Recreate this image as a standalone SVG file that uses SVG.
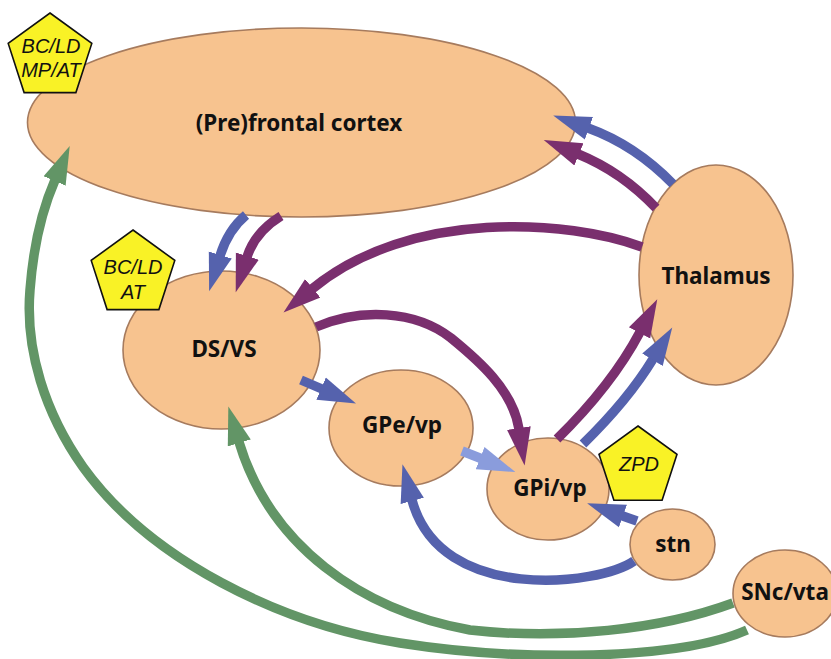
<svg xmlns="http://www.w3.org/2000/svg" width="831" height="659" viewBox="0 0 831 659">
<style>
.node{fill:#F7C38F;stroke:#A67B5E;stroke-width:1.6}
.badge{fill:#F9F226;stroke:#111;stroke-width:1.6;stroke-linejoin:miter}
.lbl{font-family:"Noto Sans","Open Sans","DejaVu Sans",sans-serif;font-weight:bold;font-size:22.5px;fill:#111;text-anchor:middle}
.blbl{font-family:"Liberation Sans",Arial,sans-serif;font-style:italic;font-size:20px;fill:#111;text-anchor:middle}
.c{fill:none;stroke-width:9.5;stroke-linecap:butt}
.purple{stroke:#7A2F6E}
.blue{stroke:#5562AD}
.lblue{stroke:#8A9CDC}
.green{stroke:#629566}
</style>
<defs>
<marker id="ah-purple" viewBox="0 -13 40 26" refX="1" refY="0" markerWidth="40" markerHeight="26" markerUnits="userSpaceOnUse" orient="auto"><path d="M0,-12 L38,0 L0,12 Z" fill="#7A2F6E"/></marker>
<marker id="ah-blue" viewBox="0 -13 40 26" refX="1" refY="0" markerWidth="40" markerHeight="26" markerUnits="userSpaceOnUse" orient="auto"><path d="M0,-12 L38,0 L0,12 Z" fill="#5562AD"/></marker>
<marker id="ah-lblue" viewBox="0 -13 40 26" refX="1" refY="0" markerWidth="40" markerHeight="26" markerUnits="userSpaceOnUse" orient="auto"><path d="M0,-12 L38,0 L0,12 Z" fill="#8A9CDC"/></marker>
<marker id="ah-green" viewBox="0 -13 40 26" refX="1" refY="0" markerWidth="40" markerHeight="26" markerUnits="userSpaceOnUse" orient="auto"><path d="M0,-12 L38,0 L0,12 Z" fill="#629566"/></marker>
</defs>
<rect width="831" height="659" fill="#fff"/>

<g id="pfc">
<ellipse class="node" cx="301.5" cy="122.5" rx="274" ry="94.5"/>
<text class="lbl" x="299" y="131">(Pre)frontal cortex</text>
</g>
<g id="thalamus">
<ellipse class="node" cx="716" cy="275" rx="77" ry="110"/>
<text class="lbl" x="716" y="284">Thalamus</text>
</g>
<g id="dsvs">
<ellipse class="node" cx="221.5" cy="350" rx="98.5" ry="79"/>
<text class="lbl" x="224" y="357">DS/VS</text>
</g>
<g id="gpe">
<ellipse class="node" cx="401" cy="428" rx="72" ry="58"/>
<text class="lbl" x="402" y="433">GPe/vp</text>
</g>
<g id="gpi">
<ellipse class="node" cx="548" cy="489" rx="61" ry="51"/>
<text class="lbl" x="550" y="496">GPi/vp</text>
</g>
<g id="stn">
<ellipse class="node" cx="672.5" cy="544.5" rx="42.5" ry="35.5"/>
<text class="lbl" x="673" y="552">stn</text>
</g>
<g id="snc">
<ellipse class="node" cx="785" cy="593.5" rx="52" ry="43.5"/>
<text class="lbl" x="785" y="600">SNc/vta</text>
</g>

<g id="badge-pfc">
<polygon class="badge" points="50,13 91.8,43.4 75.9,92.6 24.1,92.6 8.2,43.4"/>
<text class="blbl" x="51" y="53">BC/LD</text>
<text class="blbl" x="51" y="77">MP/AT</text>
</g>
<g id="badge-dsvs">
<polygon class="badge" points="133,230 174.8,260.4 158.9,309.6 107.1,309.6 91.2,260.4"/>
<text class="blbl" x="133" y="274">BC/LD</text>
<text class="blbl" x="133" y="299">AT</text>
</g>
<g id="badge-gpi">
<polygon class="badge" points="638,426 677,454.3 662.1,500.2 613.9,500.2 599,454.3"/>
<text class="blbl" x="639" y="471">ZPD</text>
</g>

<g id="connectors">
<path class="c blue" marker-end="url(#ah-blue)" d="M246,215 Q228,230 220,256"/>
<path class="c purple" marker-end="url(#ah-purple)" d="M281,216 Q255,232 247,257"/>
<path class="c purple" marker-end="url(#ah-purple)" d="M642,247 C570,220 410,208 312,289"/>
<path class="c blue" marker-end="url(#ah-blue)" d="M673,184 Q635,145 588,128"/>
<path class="c purple" marker-end="url(#ah-purple)" d="M656,208 Q622,172 578,154"/>
<path class="c purple" marker-end="url(#ah-purple)" d="M316,327 C360,308 415,310 451,338 C478,360 513,390 519,429"/>
<path class="c blue" marker-end="url(#ah-blue)" d="M301,380 L322,389"/>
<path class="c lblue" marker-end="url(#ah-lblue)" d="M462,451 L481,458.5"/>
<path class="c purple" marker-end="url(#ah-purple)" d="M557,439 Q612,385 640,332"/>
<path class="c blue" marker-end="url(#ah-blue)" d="M583,444 Q628,400 653,359"/>
<path class="c blue" marker-end="url(#ah-blue)" d="M637,521 L622,515.7"/>
<path class="c blue" marker-end="url(#ah-blue)" d="M634,561 C600,585 440,605 412,500"/>
<path class="c green" marker-end="url(#ah-green)" d="M733,603 C660,630 560,640 470,630 C360,610 270,545 239,442"/>
<path class="c green" marker-end="url(#ah-green)" d="M747,630 C680,660 520,662 400,643 C280,624 150,560 83,467 C45,413 25,350 30,290 C33,250 42,210 55,180"/>
</g>
</svg>
